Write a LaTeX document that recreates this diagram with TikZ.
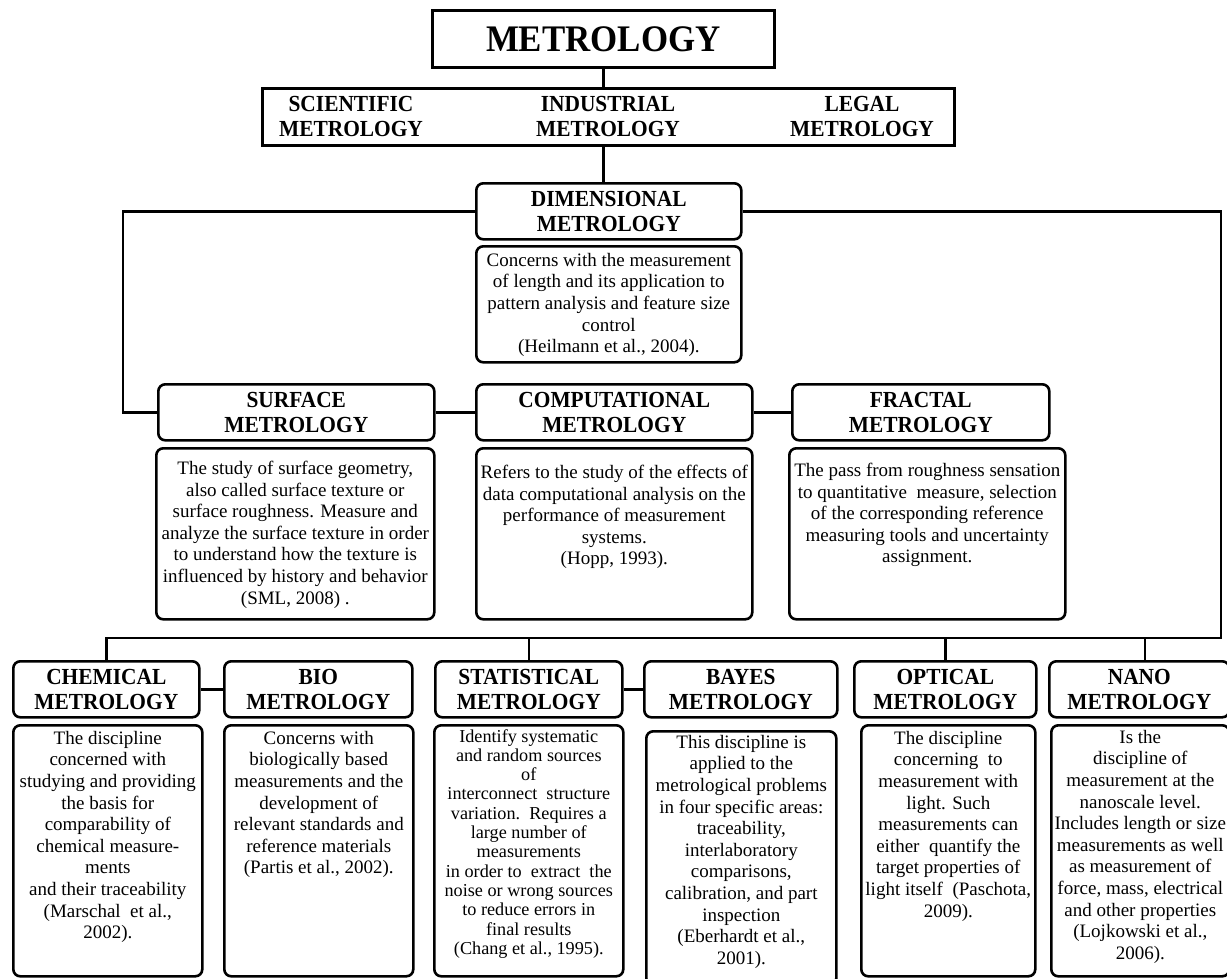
\documentclass[tikz,border=0pt]{standalone}
\usepackage{fontspec}
\setmainfont{Liberation Serif}
\newfontfamily\hdfamily{Liberation Serif}[FakeStretch=0.93]
\newcommand\myhead{\hdfamily\bfseries\fontsize{23}{25}\selectfont}
\newcommand\mytitle{\hdfamily\bfseries\fontsize{37.5}{40}\selectfont}
\newcommand\mybody{\fontsize{19}{21.6}\selectfont}
\newcommand\mybodys{\fontsize{18.2}{19.3}\selectfont}
\begin{document}
\begin{tikzpicture}[x=1pt,y=-1pt,
  sbox/.style={draw, line width=2.6pt, inner sep=0pt, anchor=north west, align=center},
  hbox/.style={draw, line width=2.6pt, rounded corners=7pt, inner sep=0pt, anchor=north west, align=center, font=\myhead},
  dbox/.style={draw, line width=2.6pt, rounded corners=7pt, inner sep=0pt, anchor=north west},
  dtext/.style={anchor=north, align=center, inner sep=0pt, font=\mybody},
  tlabel/.style={align=center, inner sep=0pt, font=\myhead},
  link/.style={line width=2.6pt}]
\fill[white] (0,0) rectangle (1227,978);
\useasboundingbox (0,0) rectangle (1227,978);

% top
\node[sbox, minimum width=342pt, minimum height=57pt, font=\mytitle] (met) at (431,9) {METROLOGY};
\node[sbox, minimum width=692pt, minimum height=57pt] (types) at (261,87) {};
\node[tlabel] (sci) at (351,116) {SCIENTIFIC\\METROLOGY};
\node[tlabel] (ind) at (608,116) {INDUSTRIAL\\METROLOGY};
\node[tlabel] (leg) at (862,116) {LEGAL\\METROLOGY};

% dimensional
\node[hbox, minimum width=265pt, minimum height=56pt] (dim) at (475,182) {DIMENSIONAL\\METROLOGY};
\node[dbox, minimum width=265pt, minimum height=116pt] (dimd) at (475,245) {};
\node[dtext] (dimt) at ([yshift=-8pt]dimd.north) {Concerns with the measurement\\of length and its application to\\pattern analysis and feature size\\control\\(Heilmann et al., 2004).};

% row 2
\node[hbox, minimum width=276pt, minimum height=56pt] (surf) at (157,383) {SURFACE\\METROLOGY};
\node[hbox, minimum width=276pt, minimum height=56pt] (comp) at (475,383) {COMPUTATIONAL\\METROLOGY};
\node[hbox, minimum width=257pt, minimum height=56pt] (frac) at (791,383) {FRACTAL\\METROLOGY};
\node[dbox, minimum width=278pt, minimum height=171pt] (surfd) at (155,447) {};
\node[dbox, minimum width=276pt, minimum height=171pt] (compd) at (475,447) {};
\node[dbox, minimum width=276pt, minimum height=171pt] (fracd) at (788,447) {};
\node[dtext] (surft) at ([yshift=-14pt]surfd.north) {The study of surface geometry,\\also called surface texture or\\surface roughness. Measure and\\analyze the surface texture in order\\to understand how the texture is\\influenced by history and behavior\\(SML, 2008) .};
\node[dtext] (compt) at ([yshift=-18pt]compd.north) {Refers to the study of the effects of\\data computational analysis on the\\performance of measurement\\systems.\\(Hopp, 1993).};
\node[dtext] (fract) at ([yshift=-16pt]fracd.north) {The pass from roughness sensation\\to quantitative\ \ measure, selection\\of the corresponding reference\\measuring tools and uncertainty\\assignment.};

% row 3
\node[hbox, minimum width=186pt, minimum height=56pt] (chem) at (12,660) {CHEMICAL\\METROLOGY};
\node[hbox, minimum width=188pt, minimum height=56pt] (bio) at (223,660) {BIO\\METROLOGY};
\node[hbox, minimum width=187pt, minimum height=56pt] (stat) at (434,660) {STATISTICAL\\METROLOGY};
\node[hbox, minimum width=193pt, minimum height=56pt] (bayes) at (643,660) {BAYES\\METROLOGY};
\node[hbox, minimum width=182pt, minimum height=56pt] (opt) at (853,660) {OPTICAL\\METROLOGY};
\node[hbox, minimum width=180pt, minimum height=56pt] (nano) at (1048,660) {NANO\\METROLOGY};

\node[dbox, minimum width=189pt, minimum height=251pt] (chemd) at (12,724) {};
\node[dbox, minimum width=189pt, minimum height=251pt] (biod) at (223,724) {};
\node[dbox, minimum width=189pt, minimum height=251pt] (statd) at (433,724) {};
\node[dbox, minimum width=190pt, minimum height=254pt] (bayesd) at (645,730) {};
\node[dbox, minimum width=174pt, minimum height=251pt] (optd) at (860,724) {};
\node[dbox, minimum width=178pt, minimum height=251pt] (nanod) at (1050,724) {};

\node[dtext] (chemt) at ([yshift=-7pt]chemd.north) {The discipline\\concerned with\\studying and providing\\the basis for\\comparability of\\chemical measure-\\ments\\and their traceability\\(Marschal\ \ et al.,\\2002).};
\node[dtext] (biot) at ([yshift=-7pt]biod.north) {Concerns with\\biologically based\\measurements and the\\development of\\relevant standards and\\reference materials\\(Partis et al., 2002).};
\node[dtext, font=\mybodys] (statt) at ([yshift=-5pt]statd.north) {Identify systematic\\and random sources\\of\\interconnect\ \ structure\\variation.\ \ Requires a\\large number of\\measurements\\in order to\ \ extract\ \ the\\noise or wrong sources\\to reduce errors in\\final results\\(Chang et al., 1995).};
\node[dtext] (bayest) at ([yshift=-5pt]bayesd.north) {This discipline is\\applied to the\\metrological problems\\in four specific areas:\\traceability,\\interlaboratory\\comparisons,\\calibration, and part\\inspection\\(Eberhardt et al.,\\2001).};
\node[dtext] (optt) at ([yshift=-7pt]optd.north) {The discipline\\concerning\ \ to\\measurement with\\light. Such\\measurements can\\either\ \ quantify the\\target properties of\\light itself\ \ (Paschota,\\2009).};
\node[dtext] (nanot) at ([yshift=-6pt]nanod.north) {Is the\\discipline of\\measurement at the\\nanoscale level.\\Includes length or size\\measurements as well\\as measurement of\\force, mass, electrical\\and other properties\\(Lojkowski et al.,\\2006).};

% connector helpers
\coordinate (lc) at (123,0);
\coordinate (rc) at (1221,0);
\coordinate (bus) at (0,638);
\coordinate (nanox) at (1145,0);

% connectors
\draw[link] (met.south) -- (met.south |- types.north);
\draw[link] (met.south |- types.south) -- (met.south |- dim.north);
\draw[link] (dim.west) -- (dim.west -| lc) -- (lc |- surf.west) -- (surf.west);
\draw[link] (dim.east) -- (dim.east -| rc) -- (rc |- bus) -- (chem.north |- bus) -- (chem.north);
\draw[link] (surf.east) -- (comp.west);
\draw[link] (comp.east) -- (frac.west);
\draw[link] (chem.east) -- (bio.west);
\draw[link] (stat.east) -- (bayes.west);
\draw[link] (stat.north |- bus) -- (stat.north);
\draw[link] (opt.north |- bus) -- (opt.north);
\draw[link] (nanox |- bus) -- (nanox |- nano.north);
\end{tikzpicture}
\end{document}
